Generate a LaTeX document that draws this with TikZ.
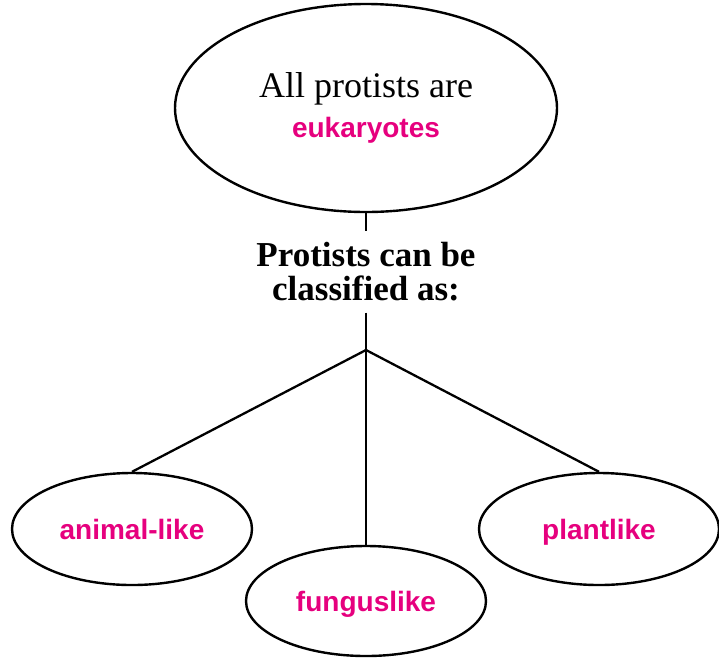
\documentclass[tikz,border=0pt]{standalone}
\usepackage{fontspec}
\setmainfont{Liberation Serif}
\newfontfamily\labelfont{Liberation Sans}
\usepackage{xcolor}
\usetikzlibrary{positioning,shapes.geometric}
\definecolor{protpink}{RGB}{230,0,126}

\begin{document}
\begin{tikzpicture}[x=1pt, y=-1pt,
  oval/.style={draw, ellipse, line width=2.4pt, inner sep=0pt, align=center},
  kind/.style={oval, minimum width=240pt, minimum height=112pt,
    text height=20pt, text depth=0pt,
    font=\labelfont\bfseries\fontsize{28}{30}\selectfont, text=protpink},
  link/.style={line width=2.3pt}]
\useasboundingbox (0,0) rectangle (719,657);
\node[oval, minimum width=382pt, minimum height=208pt,
  font=\fontsize{36}{40}\selectfont] (top) at (366,108)
  {All protists are\\
   {\labelfont\bfseries\fontsize{28}{40}\selectfont\color{protpink} eukaryotes}};
\node[align=center, inner sep=0pt, minimum height=81pt,
  font=\bfseries\fontsize{35}{34}\selectfont] (classes) at (366,272)
  {Protists can be\\ classified as:};
\coordinate (split) at (366,350);
\node[kind] (animal) at (132,529) {animal-like};
\node[kind] (plant) at (599,529) {plantlike};
\node[kind, minimum height=110pt] (fungus) at (366,601) {funguslike};
\draw[link] (top) -- (classes);
\draw[link] (classes) -- (split);
\draw[link] (split) -- (animal.north);
\draw[link] (split) -- (fungus.north);
\draw[link] (split) -- (plant.north);
\end{tikzpicture}
\end{document}
